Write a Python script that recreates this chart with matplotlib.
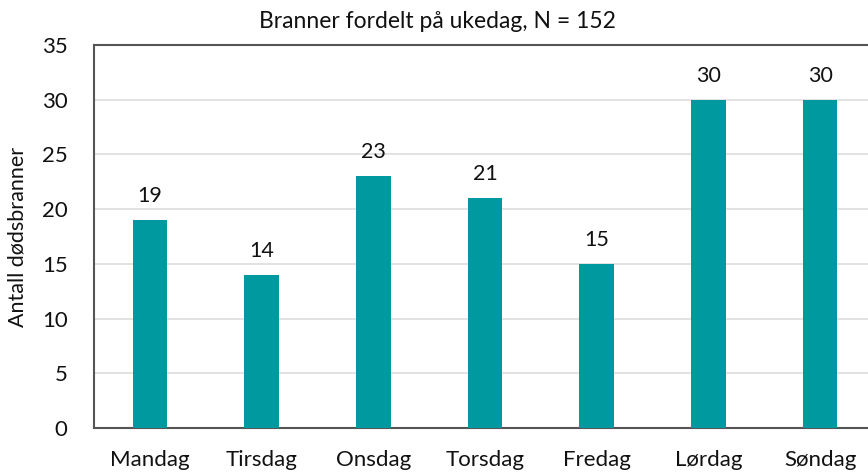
import matplotlib
matplotlib.use("Agg")
import matplotlib.pyplot as plt

days = ["Mandag", "Tirsdag", "Onsdag", "Torsdag", "Fredag", "Lørdag", "Søndag"]
counts = [19, 14, 23, 21, 15, 30, 30]
yticks = [0, 5, 10, 15, 20, 25, 30, 35]
title = "Branner fordelt på ukedag, N = 152"
ylabel = "Antall dødsbranner"

plt.rcParams['font.family'] = ['Lato', 'DejaVu Sans']

fig = plt.figure(figsize=(8.68, 4.76), dpi=100)
ax = fig.add_axes([94/868, 1-428/476, 782/868, 383/476])
x = list(range(len(days)))
ax.bar(x, counts, width=0.31, color="#00999F", zorder=3)
for xi, v in zip(x, counts):
    ax.annotate(str(v), (xi, v), xytext=(0, 10), textcoords="offset points",
                ha="center", va="bottom", fontsize=15.5, color="#111111")
ax.set_xlim(-0.5, len(days) - 0.5)
ax.set_ylim(0, 35)
ax.set_yticks(yticks)
ax.set_xticks(x)
ax.set_xticklabels(days)
ax.yaxis.grid(True, color="#DDDDDD", linewidth=1.2, zorder=0)
ax.tick_params(axis="both", length=0, labelsize=16, colors="#111111")
ax.tick_params(axis="x", pad=16)
ax.tick_params(axis="y", pad=19)
for s in ax.spines.values():
    s.set_color("#555555")
    s.set_linewidth(1.5)
ax.set_ylabel(ylabel, fontsize=15.5, color="#111111", labelpad=10)
fig.text(437/868, 1-22/476, title, ha="center", va="center", fontsize=16.5, color="#111111")
fig.savefig("out.png", dpi=100)
